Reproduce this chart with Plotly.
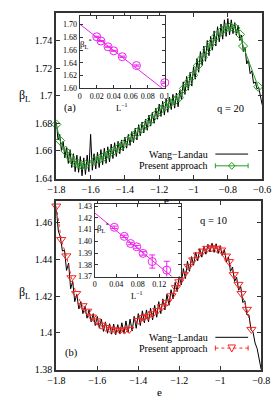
import plotly.graph_objects as go

# ---------------- data: panel (a), q = 20 ----------------
e_wl_a = [-1.80, -1.79, -1.78, -1.77, -1.76, -1.75, -1.74, -1.73, -1.72, -1.71,
          -1.70, -1.69, -1.68, -1.67, -1.66, -1.65, -1.64, -1.63, -1.62, -1.61,
          -1.60, -1.59, -1.58, -1.57, -1.56, -1.55, -1.54, -1.53, -1.52, -1.51,
          -1.50, -1.49, -1.48, -1.47, -1.46, -1.45, -1.44, -1.43, -1.42, -1.41,
          -1.40, -1.39, -1.38, -1.37, -1.36, -1.35, -1.34, -1.33, -1.32, -1.31,
          -1.30, -1.29, -1.28, -1.27, -1.26, -1.25, -1.24, -1.23, -1.22, -1.21,
          -1.20, -1.19, -1.18, -1.17, -1.16, -1.15, -1.14, -1.13, -1.12, -1.11,
          -1.10, -1.09, -1.08, -1.07, -1.06, -1.05, -1.04, -1.03, -1.02, -1.01,
          -1.00, -0.99, -0.98, -0.97, -0.96, -0.95, -0.94, -0.93, -0.92, -0.91,
          -0.90, -0.89, -0.88, -0.87, -0.86, -0.85, -0.84, -0.83, -0.82, -0.81,
          -0.80, -0.79, -0.78, -0.77, -0.76, -0.75, -0.74, -0.73, -0.72, -0.71,
          -0.70, -0.69, -0.68, -0.67, -0.66, -0.65, -0.64, -0.63, -0.62, -0.61,
          -0.60]
b_wl_a = [1.681, 1.668, 1.672, 1.660, 1.667, 1.655, 1.663, 1.651, 1.661, 1.648,
          1.658, 1.645, 1.657, 1.6445, 1.656, 1.642, 1.655, 1.643, 1.657, 1.645,
          1.672, 1.646, 1.658, 1.647, 1.659, 1.648, 1.661, 1.650, 1.662, 1.651,
          1.663, 1.652, 1.665, 1.6545, 1.666, 1.656, 1.667, 1.658, 1.668, 1.660,
          1.670, 1.662, 1.672, 1.664, 1.674, 1.666, 1.6765, 1.668, 1.679, 1.671,
          1.681, 1.673, 1.683, 1.675, 1.686, 1.678, 1.688, 1.680, 1.691, 1.683,
          1.694, 1.685, 1.696, 1.686, 1.698, 1.688, 1.699, 1.690, 1.701, 1.691,
          1.702, 1.692, 1.704, 1.697, 1.710, 1.701, 1.714, 1.704, 1.717, 1.707,
          1.721, 1.712, 1.727, 1.717, 1.732, 1.722, 1.736, 1.725, 1.740, 1.729,
          1.743, 1.733, 1.747, 1.736, 1.750, 1.739, 1.752, 1.741, 1.755, 1.743,
          1.756, 1.744, 1.755, 1.745, 1.753, 1.744, 1.751, 1.740, 1.744, 1.732,
          1.735, 1.723, 1.726, 1.716, 1.718, 1.709, 1.710, 1.705, 1.706, 1.698,
          1.6935]
e_pa_a = [-1.800, -1.778, -1.747, -1.720, -1.698, -1.675, -1.651, -1.629, -1.575, -1.547,
          -1.520, -1.493, -1.466, -1.438, -1.411, -1.384, -1.356, -1.329, -1.302, -1.275,
          -1.247, -1.220, -1.193, -1.165, -1.138, -1.111, -1.084, -1.056, -1.029, -1.002,
          -0.975, -0.947, -0.920, -0.893, -0.865, -0.838, -0.811, -0.784, -0.757, -0.729,
          -0.711, -0.623]
b_pa_a = [1.6792, 1.6675, 1.6600, 1.6556, 1.6520, 1.6508, 1.6497, 1.6497, 1.6528, 1.6544,
          1.6561, 1.6580, 1.6600, 1.6622, 1.6646, 1.6675, 1.6703, 1.6733, 1.6764, 1.6793,
          1.6828, 1.6864, 1.6899, 1.6923, 1.6947, 1.6963, 1.6987, 1.7053, 1.7101, 1.7148,
          1.7219, 1.7278, 1.7337, 1.7385, 1.7437, 1.7467, 1.7491, 1.7498, 1.7491, 1.7444,
          1.7360, 1.7065]
# inset (a)
linv_a = [0.02, 0.025, 0.0333, 0.04, 0.05, 0.0667, 0.1]
bstar_a = [1.6807, 1.6740, 1.6650, 1.6587, 1.6495, 1.6357, 1.6090]
berr_a = [0.0008, 0.0008, 0.0008, 0.0008, 0.0010, 0.0010, 0.0012]
fit_x_a = [0.0, 0.1]
fit_y_a = [1.7005, 1.5970]

# ---------------- data: panel (b), q = 10 ----------------
e_wl_b = [-1.80, -1.79, -1.78, -1.77, -1.76, -1.75, -1.74, -1.73, -1.72, -1.71,
          -1.70, -1.69, -1.68, -1.67, -1.66, -1.65, -1.64, -1.63, -1.62, -1.61,
          -1.60, -1.59, -1.58, -1.57, -1.56, -1.55, -1.54, -1.53, -1.52, -1.51,
          -1.50, -1.49, -1.48, -1.47, -1.46, -1.45, -1.44, -1.43, -1.42, -1.41,
          -1.40, -1.39, -1.38, -1.37, -1.36, -1.35, -1.34, -1.33, -1.32, -1.31,
          -1.30, -1.29, -1.28, -1.27, -1.26, -1.25, -1.24, -1.23, -1.22, -1.21,
          -1.20, -1.19, -1.18, -1.17, -1.16, -1.15, -1.14, -1.13, -1.12, -1.11,
          -1.10, -1.09, -1.08, -1.07, -1.06, -1.05, -1.04, -1.03, -1.02, -1.01,
          -1.00, -0.99, -0.98, -0.97, -0.96, -0.95, -0.94, -0.93, -0.92, -0.91,
          -0.90, -0.89, -0.88, -0.87, -0.86, -0.85, -0.84, -0.83, -0.82, -0.81,
          -0.80]
b_wl_b = [1.4670, 1.4555, 1.4520, 1.4445, 1.4450, 1.4340, 1.4380, 1.4240, 1.4280, 1.4170,
          1.4210, 1.4130, 1.4170, 1.4105, 1.4145, 1.4080, 1.4125, 1.4060, 1.4105, 1.4040,
          1.4090, 1.4025, 1.4075, 1.4008, 1.4060, 1.3998, 1.4050, 1.3993, 1.4048, 1.3990,
          1.4045, 1.3995, 1.4055, 1.3998, 1.4065, 1.4003, 1.4075, 1.4010, 1.4090, 1.4025,
          1.4105, 1.4040, 1.4120, 1.4055, 1.4125, 1.4060, 1.4135, 1.4070, 1.4150, 1.4085,
          1.4170, 1.4105, 1.4185, 1.4125, 1.4210, 1.4150, 1.4235, 1.4185, 1.4275, 1.4225,
          1.4315, 1.4262, 1.4350, 1.4295, 1.4390, 1.4335, 1.4415, 1.4368, 1.4440, 1.4392,
          1.4458, 1.4412, 1.4472, 1.4428, 1.4482, 1.4440, 1.4488, 1.4438, 1.4485, 1.4432,
          1.4475, 1.4418, 1.4455, 1.4385, 1.4412, 1.4335, 1.4358, 1.4280, 1.4302, 1.4232,
          1.4252, 1.4165, 1.4175, 1.4098, 1.4098, 1.4018, 1.4005, 1.3945, 1.3915, 1.3865,
          1.3800]
e_pa_b = [-1.800, -1.776, -1.751, -1.726, -1.703, -1.672, -1.649, -1.626, -1.604, -1.581,
          -1.558, -1.535, -1.512, -1.489, -1.467, -1.444, -1.398, -1.375, -1.353, -1.330,
          -1.307, -1.284, -1.261, -1.238, -1.216, -1.200, -1.178, -1.155, -1.132, -1.109,
          -1.086, -1.063, -1.041, -1.018, -0.995, -0.972, -0.957, -0.934, -0.911, -0.896,
          -0.870, -0.848]
b_pa_b = [1.4690, 1.4508, 1.4419, 1.4300, 1.4214, 1.4148, 1.4118, 1.4086, 1.4065, 1.4042,
          1.4029, 1.4019, 1.4015, 1.4015, 1.4015, 1.4019, 1.4068, 1.4083, 1.4090, 1.4104,
          1.4122, 1.4143, 1.4166, 1.4202, 1.4246, 1.4278, 1.4317, 1.4362, 1.4397, 1.4424,
          1.4445, 1.4460, 1.4463, 1.4460, 1.4451, 1.4418, 1.4388, 1.4317, 1.4264, 1.4214,
          1.4128, 1.4019]
# inset (b)
linv_b = [0.0365, 0.055, 0.0667, 0.0783, 0.09, 0.107, 0.134]
bstar_b = [1.4119, 1.4042, 1.3981, 1.3953, 1.3897, 1.3828, 1.3755]
berr_b = [0.0010, 0.0010, 0.0010, 0.0012, 0.0015, 0.0056, 0.0075]
fit_x_b = [0.0, 0.16]
fit_y_b = [1.4242, 1.3637]

# tick values
xt_a = [-1.8, -1.6, -1.4, -1.2, -1.0, -0.8, -0.6]
yt_a = [1.64, 1.66, 1.68, 1.70, 1.72, 1.74, 1.76]
xt_b = [-1.8, -1.6, -1.4, -1.2, -1.0, -0.8]
yt_b = [1.38, 1.40, 1.42, 1.44, 1.46]
xt_ia = [0, 0.02, 0.04, 0.06, 0.08, 0.1]
yt_ia = [1.60, 1.62, 1.64, 1.66, 1.68, 1.70]
xt_ib = [0, 0.04, 0.08, 0.12]
yt_ib = [1.37, 1.38, 1.39, 1.40, 1.41, 1.42, 1.43]

# ---------------- styling ----------------
W, H = 280, 400
FONT = "Liberation Serif"
GREEN = "#22a022"
RED = "#ff2020"
MAG = "#ee22ee"
FRAME = "#333333"


def px(x):
    return x / W


def py(y):
    return 1 - y / H


fig = go.Figure()

# panel (a)
fig.add_trace(go.Scatter(x=e_wl_a, y=b_wl_a, mode="lines", line=dict(color="black", width=1),
                         xaxis="x", yaxis="y", showlegend=False))
fig.add_trace(go.Scatter(x=e_pa_a, y=b_pa_a, mode="lines+markers",
                         line=dict(color=GREEN, width=1),
                         marker=dict(symbol="diamond-open", size=7, color=GREEN, line=dict(width=1)),
                         cliponaxis=False, xaxis="x", yaxis="y", showlegend=False))
fig.add_trace(go.Scatter(x=fit_x_a, y=fit_y_a, mode="lines", line=dict(color=MAG, width=1),
                         xaxis="x2", yaxis="y2", showlegend=False))
fig.add_trace(go.Scatter(x=linv_a, y=bstar_a, mode="markers",
                         marker=dict(symbol="circle-open", size=8, color=MAG, line=dict(width=1)),
                         error_y=dict(type="data", array=berr_a, color=MAG, thickness=1, width=3),
                         cliponaxis=False, xaxis="x2", yaxis="y2", showlegend=False))

# panel (b)
fig.add_trace(go.Scatter(x=e_wl_b, y=b_wl_b, mode="lines", line=dict(color="black", width=1),
                         xaxis="x3", yaxis="y3", showlegend=False))
fig.add_trace(go.Scatter(x=e_pa_b, y=b_pa_b, mode="lines+markers",
                         line=dict(color=RED, width=1, dash="dot"),
                         marker=dict(symbol="triangle-down-open", size=8, color=RED, line=dict(width=1)),
                         cliponaxis=False, xaxis="x3", yaxis="y3", showlegend=False))
fig.add_trace(go.Scatter(x=fit_x_b, y=fit_y_b, mode="lines", line=dict(color=MAG, width=1),
                         xaxis="x4", yaxis="y4", showlegend=False))
fig.add_trace(go.Scatter(x=linv_b, y=bstar_b, mode="markers",
                         marker=dict(symbol="circle-open", size=8, color=MAG, line=dict(width=1)),
                         error_y=dict(type="data", array=berr_b, color=MAG, thickness=1, width=3),
                         cliponaxis=False, xaxis="x4", yaxis="y4", showlegend=False))


def main_axis(**kw):
    d = dict(showline=True, linewidth=2, linecolor=FRAME, mirror="ticks", ticks="inside",
             ticklen=4, tickwidth=1, tickcolor=FRAME, showgrid=False, zeroline=False,
             tickfont=dict(family=FONT, size=10, color="black"), tickmode="array")
    d.update(kw)
    return d


def inset_axis(**kw):
    d = dict(showline=True, linewidth=1, linecolor=FRAME, mirror="ticks", ticks="inside",
             ticklen=3, tickwidth=1, tickcolor=FRAME, showgrid=False, zeroline=False,
             tickfont=dict(family=FONT, size=8, color="black"), tickmode="array")
    d.update(kw)
    return d


fig.update_layout(
    width=W, height=H, margin=dict(l=0, r=0, t=0, b=0),
    paper_bgcolor="white", plot_bgcolor="white",
    font=dict(family=FONT, color="black"),
    xaxis=main_axis(domain=[px(42), px(262)], range=[-1.8, -0.6], anchor="y", tickvals=xt_a),
    yaxis=main_axis(domain=[py(172), py(3)], range=[1.64, 1.76], anchor="x", tickvals=yt_a),
    xaxis2=inset_axis(domain=[px(67), px(158)], range=[0, 0.1], anchor="y2", tickvals=xt_ia),
    yaxis2=inset_axis(domain=[py(80), py(6)], range=[1.60, 1.7133], anchor="x2", tickvals=yt_ia,
                      tickformat=".2f"),
    xaxis3=main_axis(domain=[px(42), px(261)], range=[-1.8, -0.8], anchor="y3", tickvals=xt_b),
    yaxis3=main_axis(domain=[py(367), py(195)], range=[1.38, 1.4717], anchor="x3", tickvals=yt_b),
    xaxis4=inset_axis(domain=[px(83), px(175)], range=[0, 0.16], anchor="y4", tickvals=xt_ib),
    yaxis4=inset_axis(domain=[py(272), py(198)], range=[1.37, 1.4317], anchor="x4", tickvals=yt_ib,
                      tickformat=".2f"),
)

ann = []


def text(s, x, y, size=10.5, xanchor="center"):
    ann.append(dict(text=s, x=px(x), y=py(y), xref="paper", yref="paper", showarrow=False,
                    xanchor=xanchor, yanchor="middle", font=dict(family=FONT, size=size, color="black")))


text("β<sub>L</sub>", 8, 88, 12)
text("(a)", 57, 100)
text("q = 20", 228, 100)
text("e", 160, 194, 11)
text("Wang−Landau", 206, 147, 10, "right")
text("Present approach", 206, 159, 10, "right")
text("β<sub>L</sub><sup>*</sup>", 74, 34, 9)
text("L<sup>−1</sup>", 112, 99, 8.5)

text("β<sub>L</sub>", 8, 289, 12)
text("(b)", 58, 350)
text("q = 10", 210, 215)
text("e", 152, 390, 11)
text("Wang−Landau", 206, 334, 10, "right")
text("Present approach", 206, 345, 10, "right")
text("β<sub>L</sub><sup>*</sup>", 92, 222, 9)
text("L<sup>−1</sup>", 128, 291, 8.5)

shapes = []


def seg(x0, y0, x1, y1, color, dash="solid"):
    shapes.append(dict(type="line", xref="paper", yref="paper", x0=px(x0), y0=py(y0),
                       x1=px(x1), y1=py(y1), line=dict(color=color, width=1, dash=dash)))


def path(d, color):
    shapes.append(dict(type="path", xref="paper", yref="paper", path=d,
                       line=dict(color=color, width=1), fillcolor="rgba(0,0,0,0)"))


# legend samples (a)
seg(212, 147, 247, 147, "black")
seg(212, 159, 247, 159, GREEN)
seg(212, 156.5, 212, 161.5, GREEN)
seg(247, 156.5, 247, 161.5, GREEN)
cx, cy, r = 229.5, 159, 3.5
path(f"M {px(cx)},{py(cy - r)} L {px(cx + r)},{py(cy)} L {px(cx)},{py(cy + r)} L {px(cx - r)},{py(cy)} Z", GREEN)
# legend samples (b)
seg(212, 334, 247, 334, "black")
seg(212, 345, 247, 345, RED, "dot")
seg(212, 342.5, 212, 347.5, RED)
seg(247, 342.5, 247, 347.5, RED)
cx, cy, r = 229.5, 345, 4
path(f"M {px(cx - r)},{py(cy - r * 0.8)} L {px(cx + r)},{py(cy - r * 0.8)} L {px(cx)},{py(cy + r)} Z", RED)

fig.update_layout(annotations=ann, shapes=shapes)

fig.write_html("out.html")
